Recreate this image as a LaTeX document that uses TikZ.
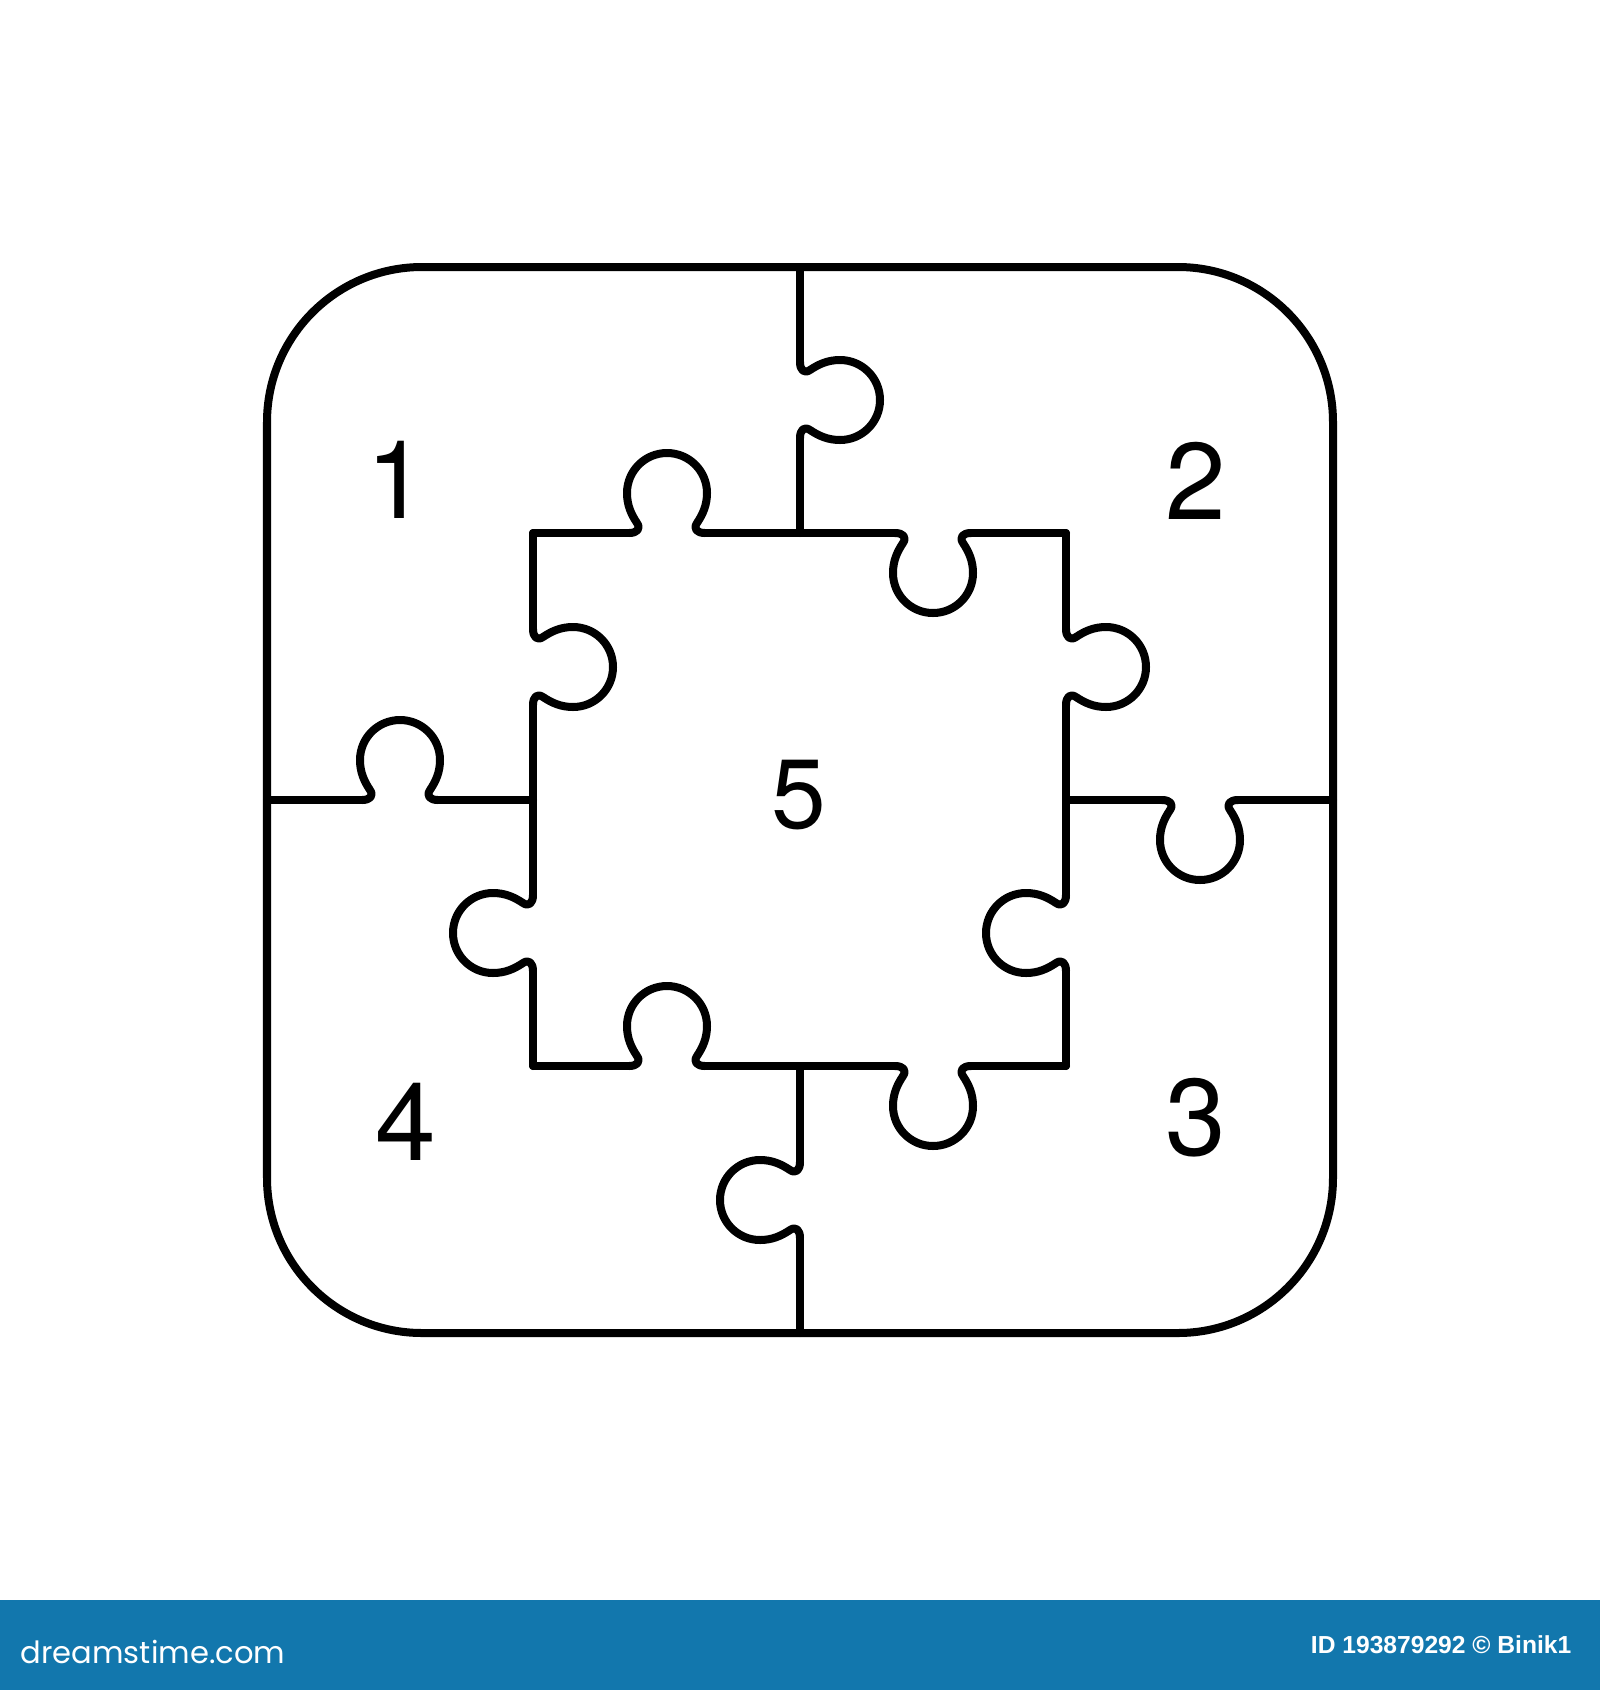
\documentclass[tikz,border=0pt]{standalone}
\usepackage{fontspec}
\setmainfont{Liberation Sans}
\newfontfamily\digitfont{TeX Gyre Heros}
\newfontfamily\logofont{Poppins}
\definecolor{bannerblue}{RGB}{18,119,173}
\tikzset{
  puzzle/.style={draw=black, line width=0.08cm, line cap=round, line join=round},
  pics/tab/.style={code={
    \draw[puzzle] (-38,0) .. controls (-30,0) and (-26,4) .. (-30,10)
      .. controls (-36,19) and (-40,28) .. (-40,40)
      .. controls (-40,62.1) and (-22.1,80) .. (0,80)
      .. controls (22.1,80) and (40,62.1) .. (40,40)
      .. controls (40,28) and (36,19) .. (30,10)
      .. controls (26,4) and (30,0) .. (38,0);
  }},
  digit/.style={font=\digitfont\fontsize{31}{36}\selectfont, inner sep=0pt, text=black},
}
\begin{document}
\begin{tikzpicture}[x=0.01cm,y=-0.01cm]
\useasboundingbox (0,0) rectangle (1600,1690);
% outer frame
\draw[puzzle, rounded corners=1.55cm] (267,267) rectangle (1333,1333);
% top vertical cut
\draw[puzzle] (800,267) -- (800,362);
\draw[puzzle] (800,438) -- (800,533);
\path (800,400) pic[rotate=90] {tab};
% inner square top
\draw[puzzle] (533,533) -- (629,533);
\draw[puzzle] (705,533) -- (895,533);
\draw[puzzle] (971,533) -- (1066,533);
\path (667,533) pic[rotate=180] {tab};
\path (933,533) pic {tab};
% inner square right
\draw[puzzle] (1066,533) -- (1066,629);
\draw[puzzle] (1066,705) -- (1066,895);
\draw[puzzle] (1066,971) -- (1066,1066);
\path (1066,667) pic[rotate=90] {tab};
\path (1066,933) pic[rotate=-90] {tab};
% right horizontal cut
\draw[puzzle] (1066,800) -- (1162,800);
\draw[puzzle] (1238,800) -- (1333,800);
\path (1200,800) pic {tab};
% inner square bottom
\draw[puzzle] (1066,1066) -- (971,1066);
\draw[puzzle] (895,1066) -- (705,1066);
\draw[puzzle] (629,1066) -- (533,1066);
\path (933,1066) pic {tab};
\path (667,1066) pic[rotate=180] {tab};
% bottom vertical cut
\draw[puzzle] (800,1066) -- (800,1162);
\draw[puzzle] (800,1238) -- (800,1333);
\path (800,1200) pic[rotate=-90] {tab};
% inner square left
\draw[puzzle] (533,1066) -- (533,971);
\draw[puzzle] (533,895) -- (533,705);
\draw[puzzle] (533,629) -- (533,533);
\path (533,933) pic[rotate=-90] {tab};
\path (533,667) pic[rotate=90] {tab};
% left horizontal cut
\draw[puzzle] (267,800) -- (362,800);
\draw[puzzle] (438,800) -- (533,800);
\path (400,800) pic[rotate=180] {tab};
% numbers
\node[digit] (n1) at (397,480) {1};
\node[digit] (n2) at (1196,481) {2};
\node[digit] (n3) at (1196,1118) {3};
\node[digit] (n4) at (406,1122) {4};
\node[digit, font=\digitfont\fontsize{28}{32}\selectfont] (n5) at (799,795) {5};
% banner
\fill[bannerblue] (0,1600) rectangle (1600,1690);
\node[anchor=base west, text=white, inner sep=0pt, font=\logofont\fontsize{8.7}{10}\selectfont] (logo) at (20,1663) {dreamstime.com};
\node[anchor=base east, text=white, inner sep=0pt, font=\bfseries\fontsize{7}{8}\selectfont] (credit) at (1572,1653) {ID 193879292 © Binik1};
\end{tikzpicture}
\end{document}
